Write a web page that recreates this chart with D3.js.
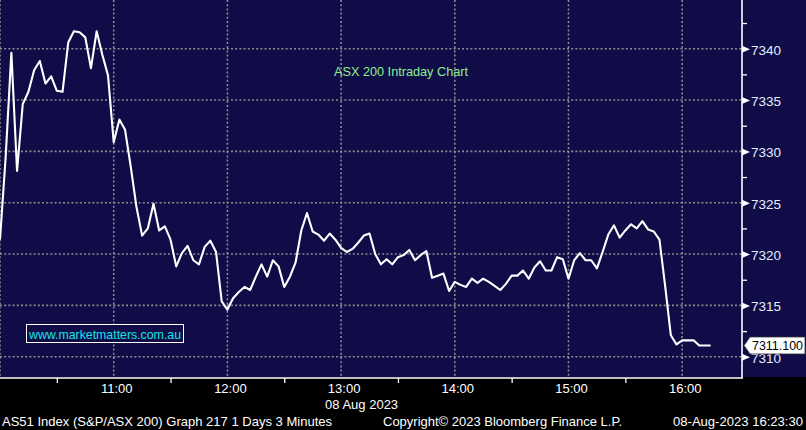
<!DOCTYPE html>
<html><head><meta charset="utf-8">
<script src="https://cdn.jsdelivr.net/npm/d3@7"></script>
<style>
html,body{margin:0;padding:0;background:#000;}
svg{display:block;}
text{font-family:"Liberation Sans",Arial,sans-serif;}
</style></head>
<body>
<svg id="chart" width="806" height="430"></svg>
<script>
// ---- data (ASX 200, 8 Aug 2023, 3-minute bars from 10:00) ----
const startTime = "2023-08-08T10:00:00";
const stepMinutes = 3;
const values = [
7321.4,7329.5,7339.6,7328.1,7334.6,7335.8,7337.9,7338.8,7336.6,7337.3,
7335.9,7335.8,7340.6,7341.7,7341.6,7341.1,7338.1,7341.7,7339.4,7337.4,
7330.9,7333.1,7332.1,7328.5,7324.6,7321.8,7322.5,7324.9,7322.3,7322.7,
7321.4,7318.8,7320.1,7320.8,7319.4,7319.0,7320.7,7321.3,7320.2,7315.4,
7314.6,7315.7,7316.3,7316.8,7316.5,7317.8,7319.0,7317.8,7319.4,7318.8,
7316.8,7317.8,7319.2,7322.3,7324.0,7322.2,7321.9,7321.3,7322.0,7321.4,
7320.6,7320.2,7320.5,7321.1,7321.8,7322.0,7320.0,7319.0,7319.5,7319.0,
7319.7,7319.9,7320.4,7319.4,7319.9,7320.3,7317.7,7317.9,7318.1,7316.4,
7317.3,7317.0,7316.8,7317.6,7317.2,7317.6,7317.3,7316.9,7316.5,7317.1,
7317.9,7317.9,7318.4,7317.6,7318.7,7319.3,7318.4,7318.4,7319.7,7319.5,
7317.6,7319.4,7320.1,7319.4,7319.4,7318.6,7320.2,7321.9,7322.8,7321.6,
7322.3,7322.9,7322.5,7323.2,7322.4,7322.2,7321.4,7316.9,7312.1,7311.2,
7311.6,7311.6,7311.6,7311.1,7311.1,7311.1
];
const lastValueLabel = "7311.100";
const yTickValues = [7310,7315,7320,7325,7330,7335,7340];
const yMinorValues = [7312.5,7317.5,7322.5,7327.5,7332.5,7337.5,7342.5];
const xHourLabels = ["11:00","12:00","13:00","14:00","15:00","16:00"];
const xHalfHourLabels = ["10:30","11:30","12:30","13:30","14:30","15:30"];
const dateLabel = "08 Aug 2023";
const titleText = "ASX 200 Intraday Chart";
const watermarkText = "www.marketmatters.com.au";
const footerLeft = "AS51 Index (S&P/ASX 200) Graph 217 1 Days 3 Minutes";
const footerMid = "Copyright\u00a9 2023 Bloomberg Finance L.P.";
const footerRight = "08-Aug-2023 16:23:30";

// ---- layout ----
const W = 806, H = 430;
const plotRight = 742, plotBottom = 377;
const navy = "#0f0c48";
const gridColor = "#8c8c8c";

const svg = d3.select("#chart");
const parse = d3.timeParse("%Y-%m-%dT%H:%M:%S");
const t0 = parse(startTime);
const data = values.map((v,i)=>({t:new Date(t0.getTime()+i*stepMinutes*60000), v}));
const atTime = s => { const [h,m]=s.split(":").map(Number); const d=new Date(t0); d.setHours(h,m,0,0); return d; };

const x = d3.scaleTime()
  .domain([t0, new Date(t0.getTime() + 6.526*3600000)])
  .range([0, plotRight]);
const y = d3.scaleLinear().domain([7308.03, 7344.74]).range([plotBottom, 0]);

// backgrounds
svg.append("rect").attr("x",0).attr("y",0).attr("width",W).attr("height",H).attr("fill","#000");
svg.append("rect").attr("x",0).attr("y",0).attr("width",W).attr("height",plotBottom).attr("fill",navy);

// grid
const grid = svg.append("g");
grid.selectAll("line.h").data(yTickValues).join("line")
  .attr("x1",0).attr("x2",plotRight).attr("y1",d=>y(d)).attr("y2",d=>y(d))
  .attr("stroke",gridColor).attr("stroke-width",1.6).attr("stroke-dasharray","2,2.2");
const vgrid = [atTime("10:00")].concat(xHourLabels.map(atTime));
grid.selectAll("line.v").data(vgrid).join("line")
  .attr("x1",d=>x(d)).attr("x2",d=>x(d)).attr("y1",0).attr("y2",plotBottom)
  .attr("stroke",gridColor).attr("stroke-width",1.6).attr("stroke-dasharray","2,2.2");

// line
const line = d3.line().x(d=>x(d.t)).y(d=>y(d.v));
svg.append("path").datum(data).attr("d",line)
  .attr("fill","none").attr("stroke","#ffffff").attr("stroke-width",2.1)
  .attr("stroke-linejoin","round");

// right axis
const yAxisG = svg.append("g").attr("transform",`translate(${plotRight},0)`);
yAxisG.call(d3.axisRight(y).tickValues(yTickValues).tickSize(0).tickPadding(9).tickFormat(d3.format("d")));
yAxisG.select(".domain").remove();
yAxisG.selectAll("text").attr("fill","#e6ecff").attr("font-size",13.5)
  .attr("font-family","Liberation Sans, Arial, sans-serif").attr("dy","0.4em");
yAxisG.selectAll(".tick").append("path").attr("d","M0,-3.5L8,0L0,3.5Z").attr("fill","#fff");
const yMinorG = svg.append("g").attr("transform",`translate(${plotRight},0)`);
yMinorG.call(d3.axisRight(y).tickValues(yMinorValues).tickSize(5).tickFormat(""));
yMinorG.select(".domain").remove();
yMinorG.selectAll("line").attr("stroke","#fff").attr("stroke-width",1.3);
svg.append("line").attr("x1",plotRight).attr("x2",plotRight).attr("y1",0).attr("y2",plotBottom+1)
  .attr("stroke","#fff").attr("stroke-width",1.6);

// bottom axis
const xAxisG = svg.append("g").attr("transform",`translate(0,${plotBottom+1})`);
xAxisG.call(d3.axisBottom(x).tickValues(xHourLabels.map(atTime)).tickSize(0).tickPadding(4)
  .tickFormat(d3.timeFormat("%H:%M")));
xAxisG.select(".domain").remove();
xAxisG.selectAll("text").attr("fill","#fff").attr("font-size",13).attr("dx",2.5)
  .attr("font-family","Liberation Sans, Arial, sans-serif").attr("dy","0.85em");
const xMinorG = svg.append("g").attr("transform",`translate(0,${plotBottom+1})`);
xMinorG.call(d3.axisBottom(x).tickValues(xHalfHourLabels.map(atTime)).tickSize(5).tickFormat(""));
xMinorG.select(".domain").remove();
xMinorG.selectAll("line").attr("stroke","#fff").attr("stroke-width",1.3);
svg.append("line").attr("x1",0).attr("x2",plotRight+1).attr("y1",plotBottom+1).attr("y2",plotBottom+1)
  .attr("stroke","#fff").attr("stroke-width",1.6);

svg.append("text").attr("x",x(atTime("13:00"))-16).attr("y",409)
  .attr("fill","#fff").attr("font-size",13).attr("textLength",73).attr("lengthAdjust","spacingAndGlyphs")
  .text(dateLabel);

// title
svg.append("text").attr("x",334).attr("y",76).attr("fill","#8fef8f").attr("font-size",13)
  .attr("textLength",134).attr("lengthAdjust","spacingAndGlyphs").text(titleText);

// watermark
svg.append("rect").attr("x",26.5).attr("y",324.5).attr("width",157).attr("height",18)
  .attr("fill",navy).attr("stroke","#fff").attr("stroke-width",1);
svg.append("text").attr("x",29).attr("y",338.5).attr("fill","#19e3e6").attr("font-size",13)
  .attr("textLength",152).attr("lengthAdjust","spacingAndGlyphs").text(watermarkText);

// last value label
const ly = y(values[values.length-1]);
svg.append("path")
  .attr("d",`M${plotRight+2},${ly} L${plotRight+8},${ly-8.5} L${W-1},${ly-8.5} L${W-1},${ly+8.5} L${plotRight+8},${ly+8.5} Z`)
  .attr("fill","#fff").attr("stroke","#333").attr("stroke-width",0.8);
svg.append("text").attr("x",752).attr("y",ly+5).attr("fill","#000").attr("font-size",13.5)
  .attr("textLength",51).attr("lengthAdjust","spacingAndGlyphs").text(lastValueLabel);

// footer
svg.append("text").attr("x",2).attr("y",426).attr("fill","#fff").attr("font-size",13.5)
  .attr("textLength",330).attr("lengthAdjust","spacingAndGlyphs").text(footerLeft);
svg.append("text").attr("x",383).attr("y",426).attr("fill","#fff").attr("font-size",13.5)
  .attr("textLength",239).attr("lengthAdjust","spacingAndGlyphs").text(footerMid);
svg.append("text").attr("x",673).attr("y",426).attr("fill","#fff").attr("font-size",13.5)
  .attr("textLength",130).attr("lengthAdjust","spacingAndGlyphs").text(footerRight);
</script>
</body></html>
